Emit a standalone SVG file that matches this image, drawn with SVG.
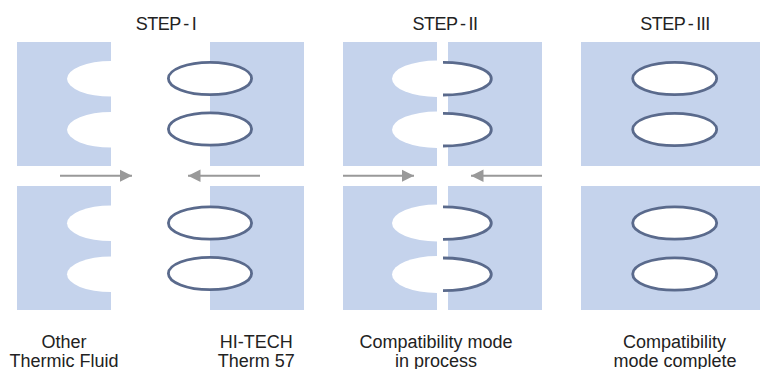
<svg xmlns="http://www.w3.org/2000/svg" width="760" height="369" viewBox="0 0 760 369">
<defs>
<style>
.blk{fill:#c5d3ec}
.cut{fill:#ffffff}
.ring{fill:#ffffff;stroke:#5a6a8c;stroke-width:2.8}
.arc{fill:#ffffff;stroke:#5a6a8c;stroke-width:2.8}
.lbl{font-family:"Liberation Sans",Arial,sans-serif;font-size:18px;fill:#222;text-anchor:middle}
.hdr{font-family:"Liberation Sans",Arial,sans-serif;font-size:18px;fill:#222;text-anchor:middle;letter-spacing:-0.5px;word-spacing:-1.5px}
.arr{stroke:#999;stroke-width:2;fill:none;marker-end:url(#ah)}
</style>
<marker id="ah" markerUnits="userSpaceOnUse" markerWidth="13" markerHeight="13" refX="12.5" refY="6.3" orient="auto">
<path d="M0,0 L12.5,6.3 L0,12.6 Z" fill="#999"/>
</marker>
</defs>
<rect width="760" height="369" fill="#ffffff"/>

<g id="headers">
<text class="hdr" x="166" y="30">STEP - I</text>
<text class="hdr" x="445" y="30">STEP - II</text>
<text class="hdr" x="675" y="30">STEP - III</text>
</g>

<g id="step1-other-top">
<rect class="blk" x="17" y="42" width="94" height="124"/>
<path class="cut" d="M111,61 A44,17.8 0 0 0 111,96.6 Z"/>
<path class="cut" d="M111,112 A44,17.8 0 0 0 111,147.6 Z"/>
</g>
<g id="step1-hitech-top">
<rect class="blk" x="210" y="42" width="94" height="124"/>
<ellipse class="ring" cx="210" cy="78.5" rx="41.6" ry="16.2"/>
<ellipse class="ring" cx="210" cy="129" rx="41.6" ry="16.2"/>
</g>
<g id="step1-other-bottom">
<rect class="blk" x="17" y="186" width="94" height="124"/>
<path class="cut" d="M111,205.5 A44,17.8 0 0 0 111,241.1 Z"/>
<path class="cut" d="M111,256.5 A44,17.8 0 0 0 111,292.1 Z"/>
</g>
<g id="step1-hitech-bottom">
<rect class="blk" x="210" y="186" width="94" height="124"/>
<ellipse class="ring" cx="210" cy="223" rx="41.6" ry="16.2"/>
<ellipse class="ring" cx="210" cy="273.5" rx="41.6" ry="16.2"/>
</g>

<g id="step2-top">
<rect class="blk" x="343" y="42" width="94" height="124"/>
<rect class="blk" x="448" y="42" width="94" height="124"/>
<path class="cut" d="M437,60.5 A45,18.2 0 0 0 437,96.9 Z"/>
<path class="cut" d="M437,111.5 A45,18.2 0 0 0 437,147.9 Z"/>
<path class="arc" d="M443,62.4 A48.3,16.3 0 0 1 443,95"/>
<path class="arc" d="M443,113.4 A48.3,16.3 0 0 1 443,146"/>
</g>
<g id="step2-bottom">
<rect class="blk" x="343" y="186" width="94" height="124"/>
<rect class="blk" x="448" y="186" width="94" height="124"/>
<path class="cut" d="M437,204.5 A45,18.5 0 0 0 437,241.5 Z"/>
<path class="cut" d="M437,256 A45,18.5 0 0 0 437,293 Z"/>
<path class="arc" d="M443,206.8 A48.3,16.3 0 0 1 443,239.4"/>
<path class="arc" d="M443,258 A48.3,16.3 0 0 1 443,290.6"/>
</g>

<g id="step3-top">
<rect class="blk" x="581" y="42" width="179" height="124"/>
<ellipse class="ring" cx="674.7" cy="78.5" rx="42" ry="16.2"/>
<ellipse class="ring" cx="674.7" cy="129.5" rx="42" ry="16.2"/>
</g>
<g id="step3-bottom">
<rect class="blk" x="581" y="186" width="179" height="124"/>
<ellipse class="ring" cx="674.7" cy="223" rx="42" ry="16.2"/>
<ellipse class="ring" cx="674.7" cy="274" rx="42" ry="16.2"/>
</g>

<g id="connectors">
<line class="arr" x1="60" y1="175.7" x2="132" y2="175.7"/>
<line class="arr" x1="260" y1="175.7" x2="188" y2="175.7"/>
<line class="arr" x1="343" y1="175.7" x2="414" y2="175.7"/>
<line class="arr" x1="542" y1="175.7" x2="471" y2="175.7"/>
</g>

<g id="labels">
<text class="lbl" x="64" y="348.3">Other</text>
<text class="lbl" x="64" y="367">Thermic Fluid</text>
<text class="lbl" x="256.3" y="348.3">HI-TECH</text>
<text class="lbl" x="256.3" y="367">Therm 57</text>
<text class="lbl" x="436" y="348.3">Compatibility mode</text>
<text class="lbl" x="436" y="367">in process</text>
<text class="lbl" x="674.5" y="348.3">Compatibility</text>
<text class="lbl" x="675" y="367">mode complete</text>
</g>
</svg>
